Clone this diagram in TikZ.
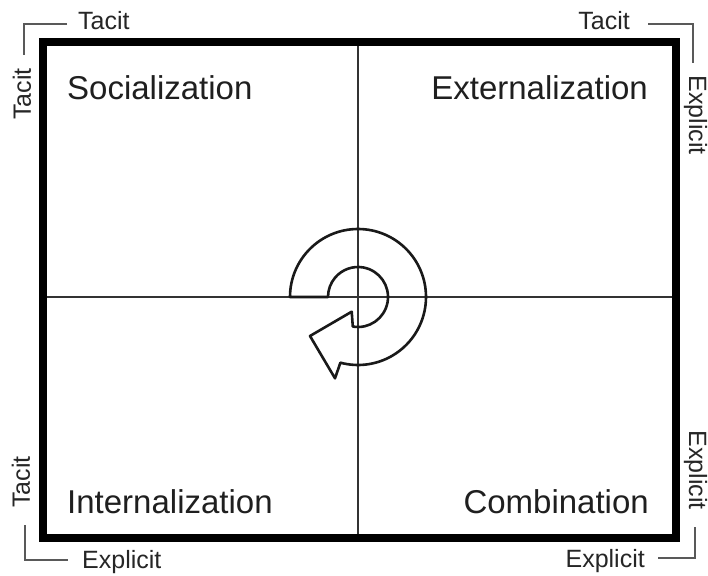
\documentclass[tikz,border=0pt]{standalone}
\usepackage{fontspec}
\setmainfont{Liberation Sans}
\begin{document}
\begin{tikzpicture}[x=1pt,y=1pt,
  title/.style={font=\fontsize{33}{36}\selectfont, text=black!88, inner sep=0pt},
  lbl/.style={font=\fontsize{25}{28}\selectfont, text=black!85, inner sep=0pt},
  bracket/.style={draw=black!65, line width=1.3pt},
  cross/.style={draw=black!80, line width=1.2pt}]
\useasboundingbox (0,0) rectangle (708,575);
\fill[white] (0,0) rectangle (708,575);
% cross lines
\coordinate (ctop) at (358,533);
\coordinate (cbot) at (358,37);
\coordinate (cleft) at (43,278);
\coordinate (cright) at (676,278);
\draw[cross] (ctop) -- (cbot);
\draw[cross] (cleft) -- (cright);
% frame
\draw[line width=7.8pt, line join=miter] (43,37) rectangle (676,533);
% titles
\node[title, anchor=base west] (soc) at (67,475) {Socialization};
\node[title, anchor=base east] (ext) at (648,475) {Externalization};
\node[title, anchor=base west] (int) at (67,62) {Internalization};
\node[title, anchor=base east] (com) at (649,62) {Combination};
% labels
\node[lbl, anchor=base west] (tl) at (78,545) {Tacit};
\node[lbl, anchor=base east] (tr) at (630,545) {Tacit};
\node[lbl, anchor=base west] (bl) at (82,7) {Explicit};
\node[lbl, anchor=base east] (br) at (645,8) {Explicit};
\node[lbl, rotate=90] (lt) at (22,481) {Tacit};
\node[lbl, rotate=90] (lb) at (21,93) {Tacit};
\node[lbl, rotate=-90] (rt) at (695.5,460) {Explicit};
\node[lbl, rotate=-90] (rb) at (695.5,105) {Explicit};
% brackets
\draw[bracket] (67,551) -- (24,551) -- (24,520);
\draw[bracket] (648,551) -- (693,551) -- (693,512);
\draw[bracket] (25,50) -- (25,15) -- (68,15);
\draw[bracket] (695,48) -- (695,17) -- (658,17);
% spiral arrow
\begin{scope}[shift={(358,278)}]
\draw[line width=2.6pt, line join=round, draw=black!90]
  (180:68) arc[start angle=180, end angle=-105, radius=68]
  -- (-23,-81.3) -- (-48,-39) -- (-6.3,-14.7) -- (-100:30)
  arc[start angle=-100, end angle=180, radius=30] -- cycle;
\end{scope}
\end{tikzpicture}
\end{document}
